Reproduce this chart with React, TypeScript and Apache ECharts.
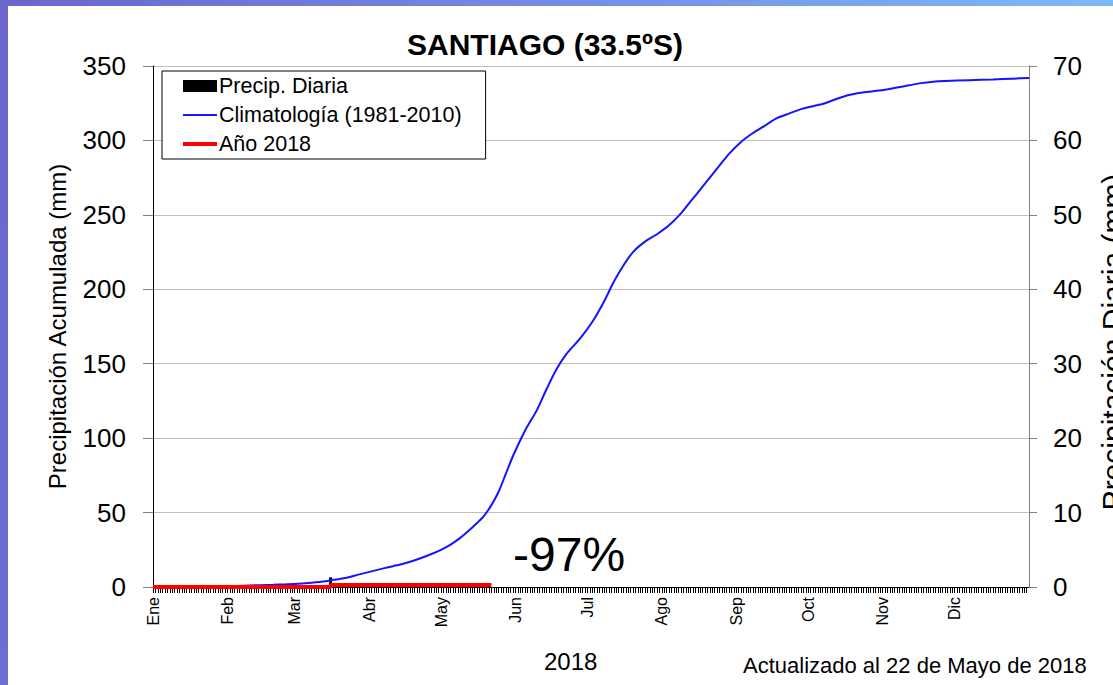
import React, { useEffect, useRef } from 'react';
import * as echarts from 'echarts';

const monthStarts = [0, 31, 59, 90, 120, 151, 181, 212, 243, 273, 304, 334];
const monthLabels = ['Ene', 'Feb', 'Mar', 'Abr', 'May', 'Jun', 'Jul', 'Ago', 'Sep', 'Oct', 'Nov', 'Dic'];

// Climatology 1981-2010 accumulated precipitation (day of year, mm)
const climDays = [0, 25, 40, 50, 59, 66, 72, 75, 80, 86, 91, 96, 100, 105, 110, 115, 120, 124, 128, 132, 135, 138, 141, 144, 147, 150, 155, 160, 164, 168, 172, 178, 183, 188, 192, 196, 200, 205, 210, 215, 220, 224, 228, 232, 236, 240, 245, 250, 255, 260, 265, 270, 275, 280, 285, 290, 295, 300, 305, 310, 315, 320, 325, 330, 340, 350, 358, 365];
const climValues = [0, 0.2, 1, 1.5, 2, 2.8, 3.8, 4.8, 6, 8.5, 10.5, 12.5, 14, 16, 18.5, 21.5, 25, 28.5, 33, 38.5, 43, 48, 55, 64, 76, 88, 105, 119, 133, 146, 156, 167, 178, 192, 205, 216, 225, 232, 237, 243, 251, 259, 267, 275, 283, 291, 299, 305, 310, 315, 318, 321, 323, 325, 328, 330.5, 332, 333, 334, 335.5, 337, 338.5, 339.5, 340, 340.5, 341, 341.5, 342];

// Year 2018 accumulated precipitation (until 22 May)
const yearDays = [0, 74, 74, 141];
const yearValues = [0, 0, 1.3, 1.3];

// Daily precipitation 2018
const dailyDays = [74];
const dailyValues = [1.3];

const FONT = '"Liberation Sans", Arial, sans-serif';

export default function App() {
  const ref = useRef<HTMLDivElement>(null);

  useEffect(() => {
    const chart = echarts.init(ref.current as HTMLDivElement, null, { renderer: 'svg' });
    const labelMap: Record<number, string> = {};
    monthStarts.forEach((d, i) => { labelMap[d] = monthLabels[i]; });

    chart.setOption({
      animation: false,
      textStyle: { fontFamily: FONT, color: '#000' },
      title: {
        text: 'SANTIAGO (33.5ºS)',
        left: 545,
        textAlign: 'center',
        top: 29,
        padding: 0,
        textStyle: { fontFamily: FONT, fontSize: 30, fontWeight: 'bold', color: '#000' },
      },
      grid: { left: 153, width: 876, top: 66, height: 521, containLabel: false },
      legend: {
        orient: 'vertical',
        left: 162,
        top: 71,
        padding: [4, 24, 4, 19],
        itemGap: 7,
        itemWidth: 34,
        itemHeight: 12,
        backgroundColor: '#fff',
        borderColor: '#000',
        borderWidth: 1,
        borderRadius: 0,
        textStyle: { fontFamily: FONT, fontSize: 21.5, color: '#000', padding: [0, 0, 0, -3] },
        data: [
          { name: 'Precip. Diaria', icon: 'rect' },
          { name: 'Climatología (1981-2010)', itemStyle: { opacity: 0 }, lineStyle: { width: 2 } },
          { name: 'Año 2018', itemStyle: { opacity: 0 }, lineStyle: { width: 4 } },
        ],
      },
      xAxis: {
        type: 'value',
        min: 0,
        max: 365,
        interval: 1,
        axisLine: { show: true, lineStyle: { color: '#000', width: 1 } },
        axisTick: { show: true, inside: false, length: 6, lineStyle: { color: '#000', width: 1 } },
        splitLine: { show: false },
        axisLabel: {
          show: true,
          rotate: 90,
          margin: 10,
          fontSize: 16,
          fontFamily: FONT,
          color: '#000',
          showMinLabel: true,
          showMaxLabel: false,
          formatter: (v: number) => (labelMap[v] !== undefined ? labelMap[v] : ''),
        },
      },
      yAxis: [
        {
          type: 'value',
          min: 0,
          max: 350,
          interval: 50,
          position: 'left',
          name: 'Precipitación Acumulada (mm)',
          nameLocation: 'middle',
          nameRotate: 90,
          nameGap: 84,
          nameTextStyle: { fontFamily: FONT, fontSize: 24, color: '#000' },
          axisLine: { show: true, lineStyle: { color: '#000', width: 1 } },
          axisTick: { show: true, length: 10, lineStyle: { color: '#808080' } },
          axisLabel: { margin: 27, fontSize: 26, fontFamily: FONT, color: '#000' },
          splitLine: { show: true, lineStyle: { color: '#c0c0c0', width: 1 } },
        },
        {
          type: 'value',
          min: 0,
          max: 70,
          interval: 10,
          position: 'right',
          axisLine: { show: true, lineStyle: { color: '#808080', width: 1 } },
          axisTick: { show: true, length: 8, lineStyle: { color: '#808080' } },
          axisLabel: { margin: 24, fontSize: 26, fontFamily: FONT, color: '#000' },
          splitLine: { show: false },
        },
      ],
      series: [
        {
          name: 'Precip. Diaria',
          type: 'bar',
          yAxisIndex: 1,
          barWidth: 3,
          itemStyle: { color: '#000' },
          data: dailyDays.map((d, i) => [d, dailyValues[i]]),
        },
        {
          name: 'Climatología (1981-2010)',
          type: 'line',
          yAxisIndex: 0,
          symbol: 'none',
          smooth: 0.3,
          lineStyle: { color: '#1414ff', width: 2 },
          itemStyle: { color: '#1414ff' },
          data: climDays.map((d, i) => [d, climValues[i]]),
        },
        {
          name: 'Año 2018',
          type: 'line',
          yAxisIndex: 0,
          symbol: 'none',
          clip: false,
          lineStyle: { color: '#ff0000', width: 4 },
          itemStyle: { color: '#ff0000' },
          data: yearDays.map((d, i) => [d, yearValues[i]]),
        },
      ],
      graphic: [
        {
          type: 'text',
          left: 513,
          top: 530,
          style: { text: '-97%', fontFamily: FONT, fontSize: 48, fill: '#000' },
        },
        {
          type: 'text',
          left: 544,
          top: 649,
          style: { text: '2018', fontFamily: FONT, fontSize: 24, fill: '#000' },
        },
        {
          type: 'text',
          left: 743,
          top: 654,
          style: { text: 'Actualizado al 22 de Mayo de 2018', fontFamily: FONT, fontSize: 22, fill: '#000' },
        },
        {
          type: 'text',
          x: 1097,
          y: 342,
          rotation: Math.PI / 2,
          style: {
            text: 'Precipitación Diaria (mm)',
            fontFamily: FONT,
            fontSize: 30,
            fill: '#000',
            align: 'center',
            verticalAlign: 'top',
          },
        },
      ],
    });

    return () => chart.dispose();
  }, []);

  return (
    <div
      style={{
        position: 'fixed',
        left: 0,
        top: 0,
        width: 1113,
        height: 685,
        overflow: 'hidden',
        background: 'linear-gradient(100deg, #6a66cc 0%, #7590e4 50%, #80c4ff 100%)',
      }}
    >
      <div style={{ position: 'absolute', left: 8, top: 6, right: 0, bottom: 0, background: '#fff' }} />
      <div ref={ref} style={{ position: 'absolute', left: 0, top: 0, width: 1113, height: 685 }} />
    </div>
  );
}
